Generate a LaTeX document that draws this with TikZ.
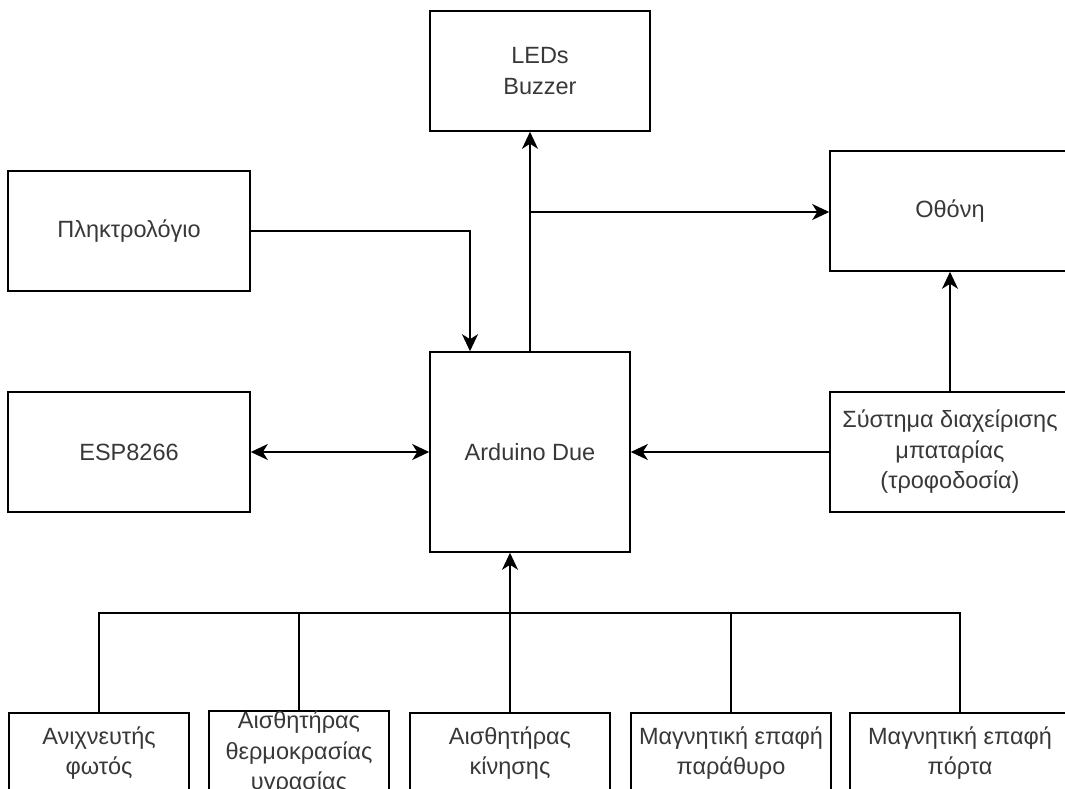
\documentclass[tikz,border=0pt]{standalone}
\usepackage{fontspec}
\setmainfont{Liberation Sans}
\usetikzlibrary{arrows.meta}

\begin{document}
\begin{tikzpicture}[x=1pt, y=-1pt,
    block/.style={draw, line width=1.6pt, text=black!78, align=center,
        inner sep=0pt, font=\fontsize{23.5}{30.5}\selectfont},
    link/.style={line width=1.6pt},
    arr/.style={link, -{Stealth[length=17pt, width=16pt, inset=5pt]}},
    arrboth/.style={link, {Stealth[length=17pt, width=16pt, inset=5pt]}-{Stealth[length=17pt, width=16pt, inset=5pt]}}]
        \useasboundingbox (0, 0) rectangle (1065, 789);
        \clip (0, 0) rectangle (1065, 789);
        % upper blocks
        \node[block, minimum width=220pt, minimum height=120pt] (leds) at (540, 71) {LEDs\\Buzzer};
        \node[block, minimum width=240pt, minimum height=120pt] (screen) at (950, 211) {Οθόνη};
        \node[block, minimum width=242pt, minimum height=120pt] (keyb) at (129, 231) {Πληκτρολόγιο};
        \node[block, minimum width=242pt, minimum height=120pt] (esp) at (129, 452) {ESP8266};
        \node[block, minimum width=200pt, minimum height=200pt] (ard) at (530, 452) {Arduino Due};
        \node[block, minimum width=240pt, minimum height=120pt] (batt) at (950, 452) {Σύστημα διαχείρισης\\μπαταρίας\\(τροφοδοσία)};
        % sensors
        \node[block, minimum width=180pt, minimum height=80pt] (light) at (99, 753) {Ανιχνευτής\\φωτός};
        \node[block, minimum width=180pt, minimum height=80pt] (temp) at (299, 753) {Αισθητήρας\\θερμοκρασίας\\υγρασίας};
        \node[block, minimum width=200pt, minimum height=80pt] (motion) at (510, 753) {Αισθητήρας\\κίνησης};
        \node[block, minimum width=200pt, minimum height=80pt] (window) at (731, 753) {Μαγνητική επαφή\\παράθυρο};
        \node[block, minimum width=220pt, minimum height=80pt] (door) at (960, 753) {Μαγνητική επαφή\\πόρτα};
        \coordinate (bus) at (510, 613);
        \coordinate (split) at (530, 212);
        % connectors
        \draw[arr] (keyb.east) -| ([xshift=-60pt]ard.north);
        \draw[link] (ard.north) -- (split);
        \draw[arr] (split) -- (split |- leds.south);
        \draw[arr] (split) -- (screen.west |- split);
        \draw[arrboth] (esp.east) -- (ard.west);
        \draw[arr] (batt.west) -- (ard.east);
        \draw[arr] (batt.north) -- (screen.south);
        \draw[link] (light.north) -- (light.north |- bus) -- (door.north |- bus) -- (door.north);
        \draw[link] (temp.north) -- (temp.north |- bus);
        \draw[link] (window.north) -- (window.north |- bus);
        \draw[arr] (motion.north) -- (motion.north |- ard.south);
\end{tikzpicture}
\end{document}
